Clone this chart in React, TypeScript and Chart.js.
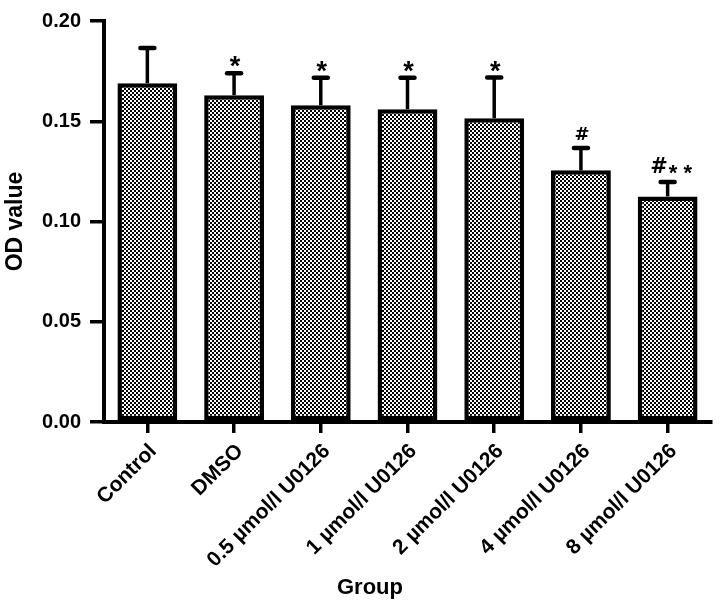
import { useEffect, useRef } from 'react';
import { Chart, registerables } from 'chart.js';

Chart.register(...registerables);

const FONT = '"Liberation Sans", Arial, Helvetica, sans-serif';
const HASH_FONT = '"DejaVu Sans", "Liberation Sans", Arial, sans-serif';

const categories = [
  'Control',
  'DMSO',
  '0.5 µmol/l U0126',
  '1 µmol/l U0126',
  '2 µmol/l U0126',
  '4 µmol/l U0126',
  '8 µmol/l U0126',
];
const odValues = [0.169, 0.163, 0.158, 0.156, 0.1515, 0.1255, 0.1125];
const odErrors = [0.0175, 0.011, 0.0137, 0.0157, 0.0203, 0.0112, 0.0072];
const significance = ['', '*', '*', '*', '*', '#', '#**'];
const yTickLabels = ['0.00', '0.05', '0.10', '0.15', '0.20'];
const xTitle = 'Group';
const yTitle = 'OD value';

function drawMarks(ctx: CanvasRenderingContext2D, label: string, x: number, capY: number) {
  if (!label) return;
  const hashes = label.replace(/\*/g, '');
  const stars = label.replace(/#/g, '').split('').join(' ');
  ctx.fillStyle = '#000';
  ctx.textBaseline = 'alphabetic';
  if (hashes && stars) {
    const hashFont = `bold 21px ${HASH_FONT}`;
    const starFont = `bold 22px ${FONT}`;
    ctx.font = hashFont;
    const hw = ctx.measureText(hashes).width;
    ctx.font = starFont;
    const sw = ctx.measureText(stars).width;
    const gap = 1;
    const total = hw + gap + sw;
    const start = x + 3.5 - total / 2;
    ctx.textAlign = 'left';
    ctx.font = hashFont;
    ctx.fillText(hashes, start, capY - 9);
    ctx.font = starFont;
    ctx.fillText(stars, start + hw + gap, capY - 2);
  } else if (hashes) {
    ctx.font = `bold 18px ${HASH_FONT}`;
    ctx.textAlign = 'center';
    ctx.fillText(hashes, x + 1, capY - 8);
  } else {
    ctx.font = `bold 27px ${FONT}`;
    ctx.textAlign = 'center';
    ctx.fillText(stars, x + 1, capY + 2);
  }
}

const errorBarPlugin = {
  id: 'errorBars',
  afterDatasetsDraw(chart: any) {
    const ctx: CanvasRenderingContext2D = chart.ctx;
    const yScale = chart.scales.y;
    const meta = chart.getDatasetMeta(0);
    ctx.save();
    meta.data.forEach((bar: any, i: number) => {
      const x = bar.x;
      const yBar = yScale.getPixelForValue(odValues[i]);
      const yTop = yScale.getPixelForValue(odValues[i] + odErrors[i]);
      ctx.strokeStyle = '#000';
      ctx.lineCap = 'butt';
      ctx.lineWidth = 3.5;
      ctx.beginPath();
      ctx.moveTo(x, yBar);
      ctx.lineTo(x, yTop);
      ctx.stroke();
      ctx.lineWidth = 4.5;
      ctx.lineCap = 'round';
      ctx.beginPath();
      ctx.moveTo(x - 7, yTop);
      ctx.lineTo(x + 7, yTop);
      ctx.stroke();
      drawMarks(ctx, significance[i], x, yTop);
    });
    ctx.restore();
  },
};

export default function App() {
  const ref = useRef<HTMLCanvasElement>(null);

  useEffect(() => {
    document.body.style.margin = '0';
    const canvas = ref.current!;
    const pc = document.createElement('canvas');
    pc.width = 4;
    pc.height = 4;
    const p = pc.getContext('2d')!;
    p.fillStyle = '#ffffff';
    p.fillRect(0, 0, 4, 4);
    p.fillStyle = '#000000';
    p.fillRect(0, 0, 2, 2);
    p.fillRect(2, 2, 2, 2);
    const pattern = canvas.getContext('2d')!.createPattern(pc, 'repeat');

    const chart = new Chart(canvas, {
      type: 'bar',
      data: {
        labels: categories,
        datasets: [
          {
            data: odValues,
            backgroundColor: pattern as any,
            borderColor: '#000',
            borderWidth: 4.5,
            borderSkipped: false,
            barPercentage: 0.69,
            categoryPercentage: 1,
          },
        ],
      },
      options: {
        responsive: false,
        animation: false,
        devicePixelRatio: 1,
        layout: { padding: { left: 29, right: 13, top: 19, bottom: 0 } },
        plugins: {
          legend: { display: false },
          tooltip: { enabled: false },
          title: {
            display: true,
            text: xTitle,
            position: 'bottom',
            color: '#000',
            font: { family: FONT, size: 22, weight: 'bold' },
            padding: { top: 0, bottom: 8 },
          },
        },
        scales: {
          x: {
            offset: true,
            ticks: {
              color: '#000',
              font: { family: FONT, size: 21, weight: 'bold' },
              maxRotation: 45,
              minRotation: 45,
              autoSkip: false,
              padding: 6,
              labelOffset: 6,
            },
            grid: {
              display: true,
              drawOnChartArea: false,
              drawTicks: true,
              offset: false,
              tickLength: 11,
              lineWidth: 3.5,
              color: '#000',
            },
            border: { display: true, width: 4, color: '#000' },
            afterFit: (s: any) => {
              s.height = 152.6;
            },
          },
          y: {
            min: 0,
            max: 0.2,
            ticks: {
              stepSize: 0.05,
              color: '#000',
              font: { family: FONT, size: 20, weight: 'bold' },
              padding: 9,
              callback: (_v: any, i: number) => yTickLabels[i],
            },
            grid: {
              display: true,
              drawOnChartArea: false,
              drawTicks: true,
              tickLength: 14,
              lineWidth: 3.5,
              color: '#000',
            },
            border: { display: true, width: 4, color: '#000' },
            title: {
              display: true,
              text: yTitle,
              color: '#000',
              font: { family: FONT, size: 23, weight: 'bold' },
              padding: { top: -27, bottom: 0 },
            },
            afterFit: (s: any) => {
              s.width = 75;
            },
          },
        },
      },
      plugins: [errorBarPlugin],
    });
    return () => chart.destroy();
  }, []);

  return (
    <div style={{ width: 724, height: 609 }}>
      <canvas ref={ref} width={724} height={609} style={{ display: 'block' }} />
    </div>
  );
}
